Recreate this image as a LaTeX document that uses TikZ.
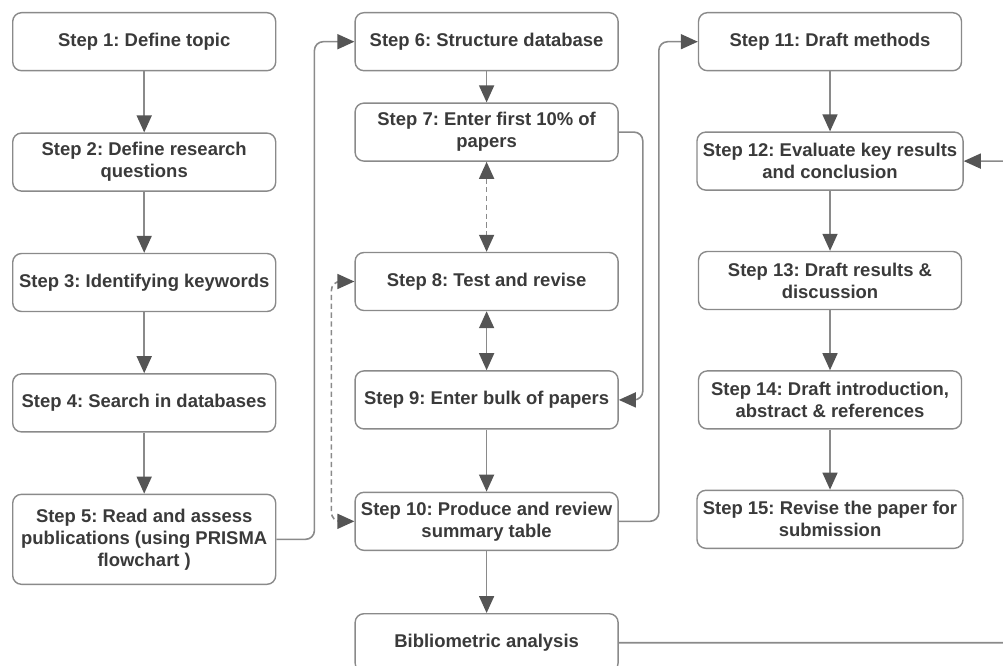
\documentclass[tikz,border=0pt]{standalone}
\usepackage{fontspec}
\setmainfont{Liberation Sans}
\usetikzlibrary{positioning,arrows.meta}
\definecolor{linegray}{HTML}{8A8A8A}
\definecolor{tipgray}{HTML}{555555}
\definecolor{textgray}{HTML}{3A3A3A}

\begin{document}
\frenchspacing
\begin{tikzpicture}[
        node distance=1.2cm,
        every node/.style={font=\fontsize{10.5}{12.5}\selectfont\bfseries, text=textgray},
        stepbox/.style={draw=linegray, line width=0.8pt, rounded corners=5pt, fill=white, minimum width=5.26cm, minimum height=1.16cm, align=center},
        tallbox/.style={stepbox, minimum height=1.8cm},
        flow/.style={draw=linegray, line width=0.9pt, rounded corners=5pt, -{Triangle[length=3.4mm, width=3mm, color=tipgray]}},
        twoway/.style={flow, {Triangle[length=3.4mm, width=3mm, color=tipgray]}-{Triangle[length=3.4mm, width=3mm, color=tipgray]}},
        dashflow/.style={twoway, dash pattern=on 3pt off 2pt}
    ]
    \useasboundingbox (0,0) rectangle (20.06,-13.32);

    % first column
    \node[stepbox, anchor=north west] (s1) at (0.24,-0.24) {Step 1: Define topic};
    \node[stepbox, below=1.22cm of s1] (s2) {Step 2: Define research\\questions};
    \node[stepbox, below=1.22cm of s2] (s3) {Step 3: Identifying keywords};
    \node[stepbox, below=1.22cm of s3] (s4) {Step 4: Search in databases};
    \node[tallbox, below=1.22cm of s4] (s5) {Step 5: Read and assess\\publications (using PRISMA\\flowchart )};

    % second column
    \node[stepbox, right=1.56cm of s1] (s6) {Step 6: Structure database};
    \node[stepbox, below=0.62cm of s6] (s7) {Step 7: Enter first 10\% of\\papers};
    \node[stepbox, below=1.8cm of s7] (s8) {Step 8: Test and revise};
    \node[stepbox, below=1.18cm of s8] (s9) {Step 9: Enter bulk of papers};
    \node[stepbox, below=1.24cm of s9] (s10) {Step 10: Produce and review\\summary table};
    \node[stepbox, below=1.24cm of s10] (biblio) {Bibliometric analysis};

    % third column
    \node[stepbox, right=1.58cm of s6] (s11) {Step 11: Draft methods};
    \node[stepbox, below=1.2cm of s11] (s12) {Step 12: Evaluate key results\\and conclusion};
    \node[stepbox, below=1.2cm of s12] (s13) {Step 13: Draft results \&\\discussion};
    \node[stepbox, below=1.2cm of s13] (s14) {Step 14: Draft introduction,\\abstract \& references};
    \node[stepbox, below=1.2cm of s14] (s15) {Step 15: Revise the paper for\\submission};

    \coordinate (edge) at (20.3,0);

    \draw[flow] (s1) -- (s2);
    \draw[flow] (s2) -- (s3);
    \draw[flow] (s3) -- (s4);
    \draw[flow] (s4) -- (s5);
    \draw[flow] (s5.east) -- ++(0.76,0) |- (s6.west);

    \draw[flow] (s6) -- (s7);
    \draw[dashflow] (s7) -- (s8);
    \draw[twoway] (s8) -- (s9);
    \draw[flow] (s9) -- (s10);
    \draw[flow] (s10) -- (biblio);
    \draw[flow] (s7.east) -- ++(0.48,0) |- (s9.east);
    \draw[dashflow] (s10.west) -- ++(-0.46,0) |- (s8.west);
    \draw[flow] (s10.east) -- ++(0.8,0) |- (s11.west);

    \draw[flow] (s11) -- (s12);
    \draw[flow] (s12) -- (s13);
    \draw[flow] (s13) -- (s14);
    \draw[flow] (s14) -- (s15);
    \draw[flow] (biblio.east) -- (biblio.east -| edge) |- (s12.east);
\end{tikzpicture}
\end{document}
